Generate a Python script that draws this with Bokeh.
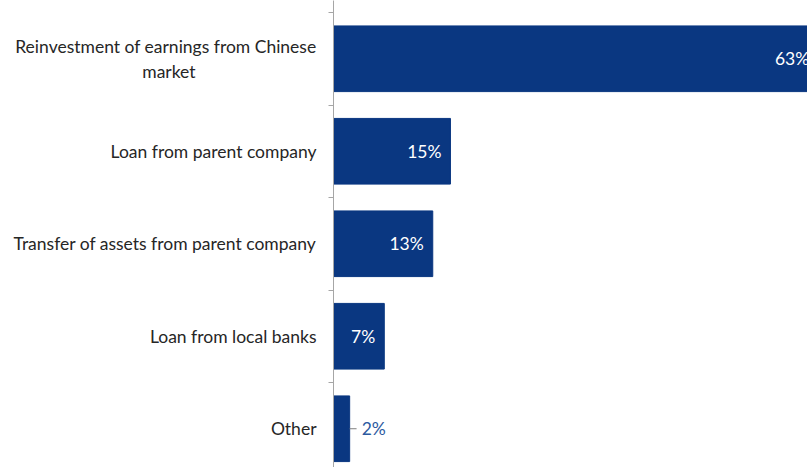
from bokeh.plotting import figure
from bokeh.models import Range1d, FixedTicker, ColumnDataSource
from bokeh.core.properties import value
from bokeh.embed import file_html
from bokeh.resources import INLINE

NBSP = "\u00a0"
categories = ["Reinvestment of earnings from Chinese\nmarket" + NBSP * 27,
              "Loan from parent company",
              "Transfer of assets from parent company",
              "Loan from local banks",
              "Other"]
values = [63.0, 15.2, 12.9, 6.6, 2.1]
value_labels = ["63%", "15%", "13%", "7%", "2%"]

NAVY = "#0a3781"
FONT = "Lato"

pos = list(range(len(categories)))
p = figure(width=807, height=467, output_backend="svg", toolbar_location=None,
           x_range=Range1d(0, 61.6), y_range=Range1d(4.419, -0.63),
           x_axis_location=None, min_border_left=333, min_border_right=0,
           min_border_top=0, min_border_bottom=0)
p.outline_line_color = None
p.grid.visible = False
p.background_fill_color = "white"
p.border_fill_color = "white"

src = ColumnDataSource(dict(y=pos, v=values, lab=value_labels))
p.hbar(y="y", right="v", left=0, height=0.71, color=NAVY, source=src)

inside = [i for i, v in enumerate(values) if v >= 5]
outside = [i for i, v in enumerate(values) if v < 5]
p.text(x=[values[i] for i in inside], y=[pos[i] for i in inside],
       text=[value_labels[i] for i in inside], x_offset=-9,
       text_align="right", text_baseline="middle", text_color="white",
       text_font=value(FONT), text_font_size="17.5px")
p.segment(x0=[values[i] for i in outside], x1=[values[i] + 0.9 for i in outside],
          y0=[pos[i] for i in outside], y1=[pos[i] for i in outside],
          line_color="#7f7f7f", line_width=1)
p.text(x=[values[i] for i in outside], y=[pos[i] for i in outside],
       text=[value_labels[i] for i in outside], x_offset=12,
       text_align="left", text_baseline="middle", text_color="#2c5aa0",
       text_font=value(FONT), text_font_size="17.5px")

ax = p.yaxis[0]
ax.ticker = FixedTicker(ticks=pos, minor_ticks=[i + 0.5 for i in range(-1, len(categories))])
ax.major_label_overrides = {i: c for i, c in zip(pos, categories)}
ax.major_tick_line_color = None
ax.major_tick_out = 0
ax.major_tick_in = 0
ax.minor_tick_line_color = "#a6a6a6"
ax.minor_tick_out = 5
ax.minor_tick_in = 0
ax.axis_line_color = "#a6a6a6"
ax.major_label_standoff = 12
ax.major_label_text_font = FONT
ax.major_label_text_font_size = "17.5px"
ax.major_label_text_color = "#262626"

open("out.html", "w").write(file_html(p, INLINE))
